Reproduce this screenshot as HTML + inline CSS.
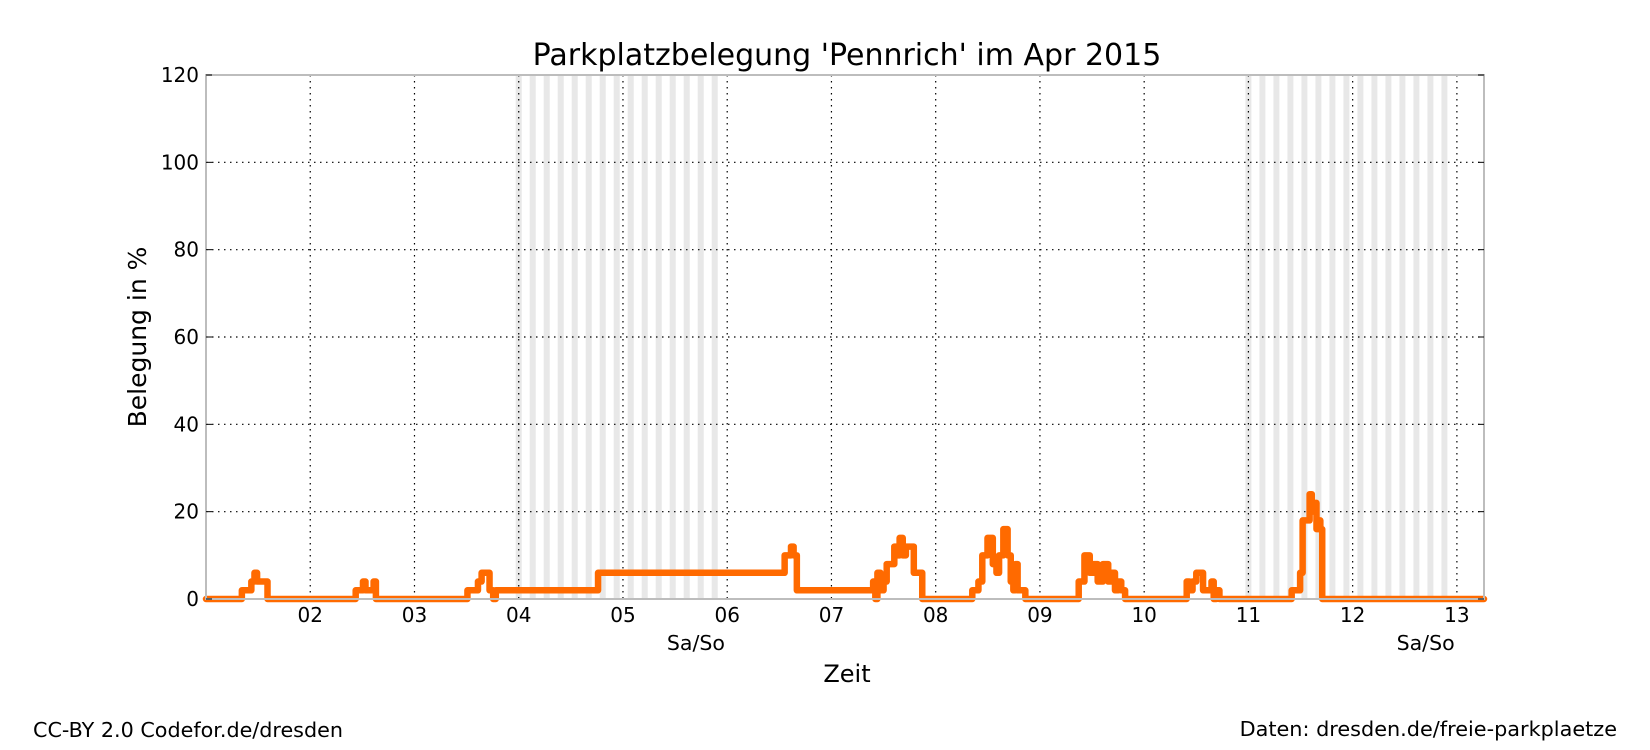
<!DOCTYPE html>
<html><head><meta charset="utf-8"><style>
html,body{margin:0;padding:0;background:#fff;}
svg{display:block;font-family:"DejaVu Sans","Liberation Sans",sans-serif;}
</style></head><body>
<svg id="chart" width="1650" height="750" viewBox="0 0 1650 750">
<g id="stripes"></g>
<g id="grid"></g>
<g id="series"></g>
<g id="axes"></g>
<text x="847" y="65" font-size="30" text-anchor="middle">Parkplatzbelegung 'Pennrich' im Apr 2015</text>
<text x="847" y="682" font-size="24" text-anchor="middle">Zeit</text>
<text transform="translate(146,337) rotate(-90)" font-size="25" text-anchor="middle">Belegung in %</text>
<text x="33" y="737" font-size="20.7">CC-BY 2.0 Codefor.de/dresden</text>
<text x="1617" y="736" font-size="20.8" text-anchor="end">Daten: dresden.de/freie-parkplaetze</text>
</svg>
<script>
const xDomain = [1, 13.26];
const yDomain = [0, 120];
const yTicks = [0, 20, 40, 60, 80, 100, 120];
const xTickDays = [2,3,4,5,6,7,8,9,10,11,12,13];
const xTickLabels = ["02","03","04","05","06","07","08","09","10","11","12","13"];
const weekendStarts = [4, 11];
const weekendLabelDays = [5.7, 12.7];
const seriesDays = [1.0,1.344,1.435,1.465,1.49,1.59,2.436,2.506,2.53,2.608,2.63,3.508,3.609,3.644,3.72,3.755,3.78,4.761,6.551,6.612,6.637,6.668,7.40,7.421,7.441,7.47,7.50,7.53,7.603,7.624,7.654,7.684,7.714,7.79,7.871,8.351,8.41,8.447,8.497,8.548,8.583,8.608,8.649,8.69,8.72,8.745,8.765,8.786,8.86,9.372,9.427,9.478,9.513,9.554,9.604,9.655,9.686,9.72,9.751,9.78,9.817,10.408,10.434,10.464,10.50,10.565,10.646,10.667,10.692,10.722,11.415,11.496,11.52,11.587,11.608,11.628,11.653,11.673,11.69,11.708,13.26];
const seriesValues = [0,2,4,6,4,0,2,4,2,4,0,2,4,6,2,0,2,6,10,12,10,2,4,0,6,2,4,8,12,10,14,10,12,6,0,2,4,10,14,8,6,10,16,10,4,2,8,2,0,4,10,6,8,4,8,4,6,2,4,2,0,4,2,4,6,2,4,0,2,0,2,6,18,24,20,22,16,18,16,0,0];

const NS = "http://www.w3.org/2000/svg";
const L = 206, R = 1484, T = 75, B = 599;
function xs(d){ return L + (d - xDomain[0]) / (xDomain[1] - xDomain[0]) * (R - L); }
function ys(v){ return B - (v - yDomain[0]) / (yDomain[1] - yDomain[0]) * (B - T); }
function mk(tag, attrs, parent){ const e = document.createElementNS(NS, tag); for (const k in attrs) e.setAttribute(k, attrs[k]); parent.appendChild(e); return e; }

const stripes = document.getElementById('stripes');
weekendStarts.forEach(ws => {
  const x0 = xs(ws), x1 = xs(ws + 2);
  for (let x = x0 - 3; x < x1 - 4; x += 14) {
    const r = mk('rect', {x: x, y: T, width: 6, height: B - T, fill: '#e8e8e8'}, stripes);
    
    
  }
});

const grid = document.getElementById('grid');
xTickDays.forEach(d => {
  const l = mk('line', {x1: xs(d), x2: xs(d), y1: T, y2: B, stroke: '#000', 'stroke-width': 1.2, 'stroke-dasharray': '1.5,4.5'}, grid);
  
  
});
yTicks.forEach(v => {
  if (v === 0) return;
  const l = mk('line', {x1: L, x2: R, y1: ys(v), y2: ys(v), stroke: '#000', 'stroke-width': 1.2, 'stroke-dasharray': '1.5,4.5'}, grid);
  
  
});

const series = document.getElementById('series');
let d = '';
for (let i = 0; i < seriesDays.length; i++) {
  const x = xs(seriesDays[i]), y = ys(seriesValues[i]);
  if (i === 0) d += 'M' + x + ' ' + y;
  else d += ' L' + x + ' ' + ys(seriesValues[i-1]) + ' L' + x + ' ' + y;
}
const line = mk('path', {d: d, fill: 'none', stroke: '#ff6a00', 'stroke-width': 6.5, 'stroke-linejoin': 'round', 'stroke-linecap': 'round'}, series);



const axes = document.getElementById('axes');
const frame = mk('rect', {x: L, y: T, width: R - L, height: B - T, fill: 'none', stroke: '#bdbdbd', 'stroke-width': 2}, axes);


yTicks.forEach(v => {
  const t = mk('text', {x: 199, y: ys(v) + 7, 'font-size': 20, 'text-anchor': 'end'}, axes);
  t.textContent = String(v);
  
  
  mk('line', {x1: L, x2: L + 6, y1: ys(v), y2: ys(v), stroke: '#000', 'stroke-width': 1}, axes);
  mk('line', {x1: R - 6, x2: R, y1: ys(v), y2: ys(v), stroke: '#000', 'stroke-width': 1}, axes);
});
xTickDays.forEach((dd, i) => {
  const t = mk('text', {x: xs(dd), y: 622, 'font-size': 20, 'text-anchor': 'middle'}, axes);
  t.textContent = xTickLabels[i];
  
  
});
weekendLabelDays.forEach(dd => {
  const t = mk('text', {x: xs(dd), y: 650, 'font-size': 20.5, 'text-anchor': 'middle'}, axes);
  t.textContent = 'Sa/So';
  
  
});
</script>
</body></html>
